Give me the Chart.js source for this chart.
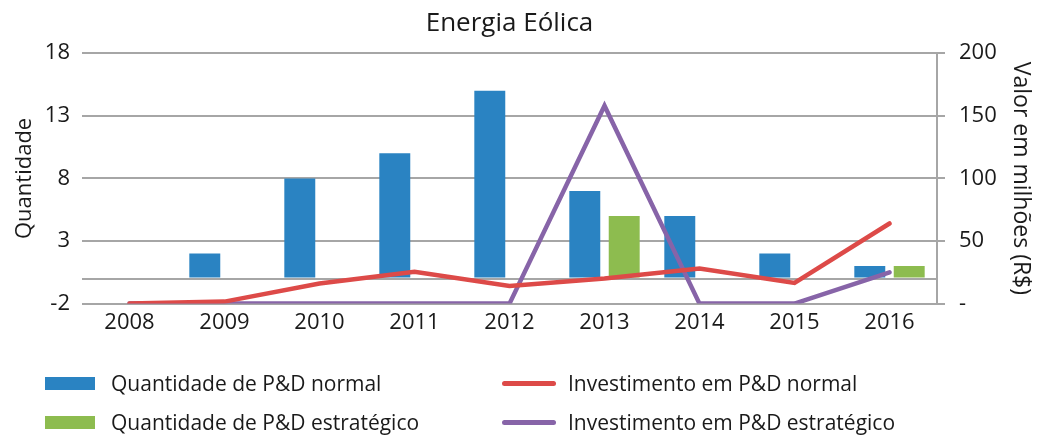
<!DOCTYPE html>
<html>
<head>
<meta charset="utf-8">
<script src="https://cdn.jsdelivr.net/npm/chart.js@4"></script>
<style>
  body { margin: 0; background: #fff; }
  #wrap { position: relative; width: 1042px; height: 437px; }
  #legend { position: absolute; left: 0; top: 364px; width: 1042px; font-family: "Open Sans", sans-serif; font-size: 21px; color: #1a1a1a; }
  .item { position: absolute; height: 26px; display: flex; align-items: center; white-space: nowrap; }
  .box { width: 50px; height: 13px; margin-right: 16px; }
  .ln { width: 54px; height: 5px; border-radius: 3px; margin-right: 12px; }
</style>
</head>
<body>
<div id="wrap">
  <canvas id="chart" width="1042" height="437"></canvas>
  <div id="legend"></div>
</div>
<script>
const years = ['2008', '2009', '2010', '2011', '2012', '2013', '2014', '2015', '2016'];
const qtdNormal = [0, 2, 8, 10, 15, 7, 5, 2, 1];
const qtdEstrategico = [null, null, null, null, null, 5, null, null, 1];
const invNormal = [0, 1.6, 16, 25.5, 14, 20, 28, 16.5, 64];
const invEstrategico = [0, 0, 0, 0, 0, 158, 0, 0, 25];
const leftTicks = [-2, 0, 3, 8, 13, 18];

const ctx = document.getElementById('chart').getContext('2d');
const font = 'Open Sans';
const chart = new Chart(ctx, {
    type: 'bar',
    data: {
        labels: years,
        datasets: [{
            label: 'Quantidade de P&D normal',
            data: qtdNormal,
            backgroundColor: '#2a83c2',
            yAxisID: 'y',
            order: 1,
            categoryPercentage: 0.83,
            barPercentage: 0.785
        }, {
            label: 'Quantidade de P&D estratégico',
            data: qtdEstrategico,
            backgroundColor: '#8dbc4f',
            yAxisID: 'y',
            order: 1,
            categoryPercentage: 0.83,
            barPercentage: 0.785
        }, {
            type: 'line',
            label: 'Investimento em P&D normal',
            data: invNormal,
            borderColor: '#dd4a48',
            backgroundColor: '#dd4a48',
            borderWidth: 4.5,
            pointRadius: 0,
            tension: 0,
            borderCapStyle: 'round',
            yAxisID: 'y1',
            order: 0
        }, {
            type: 'line',
            label: 'Investimento em P&D estratégico',
            data: invEstrategico,
            borderColor: '#8764a8',
            backgroundColor: '#8764a8',
            borderWidth: 4.5,
            pointRadius: 0,
            tension: 0,
            borderCapStyle: 'round',
            yAxisID: 'y1',
            order: 0
        }]
    },
    options: {
        responsive: false,
        animation: false,
        layout: { padding: { left: 0, right: 0, top: 0, bottom: 95 } },
        scales: {
            x: {
                grid: { display: false, drawTicks: false },
                border: { display: false },
                ticks: { color: '#1a1a1a', font: { family: font, size: 22 }, padding: 6 }
            },
            y: {
                position: 'left',
                min: -2,
                max: 18,
                afterBuildTicks: s => { s.ticks = leftTicks.map(v => ({ value: v })); },
                afterFit: s => { s.width = 82; },
                grid: { color: '#a6a6a6', lineWidth: 2, drawTicks: false },
                border: { display: false },
                ticks: {
                    color: '#1a1a1a',
                    font: { family: font, size: 22 },
                    padding: 12,
                    callback: v => v === 0 ? '' : v
                },
                title: { display: true, text: 'Quantidade', color: '#1a1a1a', font: { family: font, size: 22 }, padding: { top: 12, bottom: 0 } }
            },
            y1: {
                position: 'right',
                min: 0,
                max: 200,
                afterFit: s => { s.width = 105; },
                grid: { drawOnChartArea: false, color: '#a6a6a6', lineWidth: 2, tickLength: 8 },
                border: { display: true, color: '#a6a6a6', width: 2 },
                ticks: {
                    stepSize: 50,
                    color: '#1a1a1a',
                    font: { family: font, size: 22 },
                    padding: 14,
                    callback: v => v === 0 ? '-' : v
                },
                title: { display: true, text: 'Valor em milhões (R$)', color: '#1a1a1a', font: { family: font, size: 23 }, padding: 8 }
            }
        },
        plugins: {
            legend: { display: false },
            tooltip: { enabled: false },
            title: {
                display: true,
                fullSize: false,
                text: 'Energia Eólica',
                color: '#1a1a1a',
                font: { family: font, size: 26, weight: 'normal' },
                padding: { top: 8, bottom: 14 }
            }
        }
    }
});

// legend in two columns, built from the datasets
const legendPos = [[45, 370], [45, 409], [502, 370], [502, 409]];
const legend = document.getElementById('legend');
chart.data.datasets.forEach((ds, i) => {
    const item = document.createElement('div');
    item.className = 'item';
    item.style.left = legendPos[i][0] + 'px';
    item.style.top = (legendPos[i][1] - 364) + 'px';
    const sw = document.createElement('span');
    sw.className = ds.type === 'line' ? 'ln' : 'box';
    sw.style.background = ds.type === 'line' ? ds.borderColor : ds.backgroundColor;
    item.appendChild(sw);
    item.appendChild(document.createTextNode(ds.label));
    legend.appendChild(item);
});
</script>
</body>
</html>
